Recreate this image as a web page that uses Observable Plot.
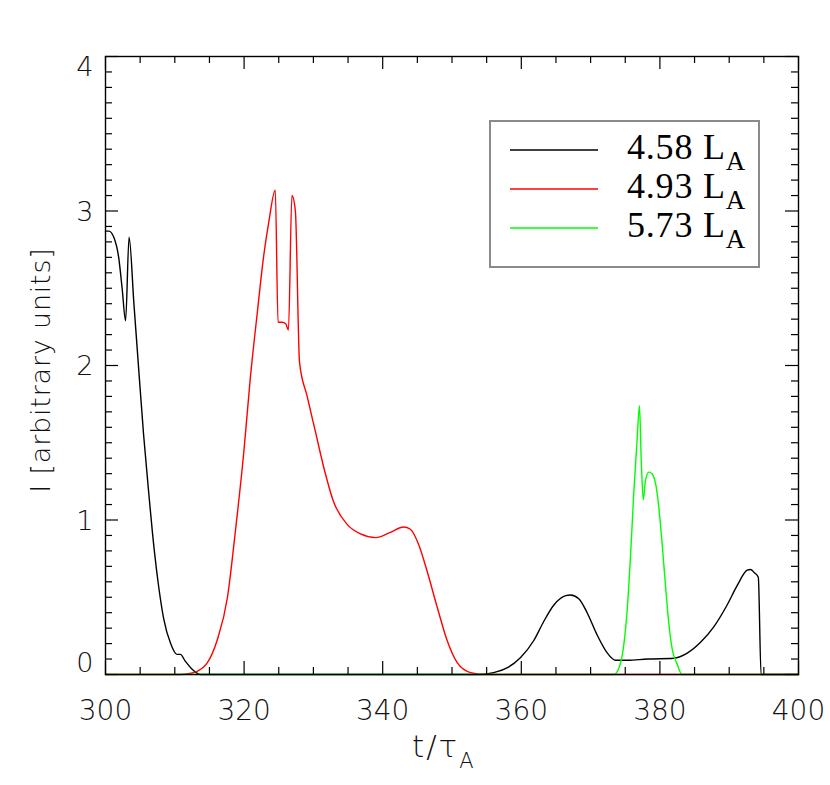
<!DOCTYPE html>
<html><head><meta charset="utf-8">
<script src="https://cdn.jsdelivr.net/npm/d3@7"></script>
<script src="https://cdn.jsdelivr.net/npm/@observablehq/plot@0.6"></script>
<style>html,body{margin:0;padding:0;background:#fff}</style>
</head><body><div id="chart"></div>
<script>
// ---- data ----
const seriesNames = ["4.58", "4.93", "5.73"];
const seriesColors = ["#000000", "#ff0000", "#00ff00"];

const t458 = [300, 300.5, 301.2, 301.9, 302.4, 302.9, 303.4, 304.1, 304.8, 305.5, 306.25, 307.0, 307.7, 308.4, 309.4, 310.3, 310.8, 311.5, 312.5, 313.7,
  354.1, 356.0, 358.0, 359.9, 361.8, 363.2, 364.7, 366.4, 367.1, 368.3, 369.5, 370.9, 372.4, 373.6, 375.3, 378.2, 382.0, 384.0, 385.9, 387.8, 389.7, 391.2, 392.6, 393.1, 393.6, 394.2, 394.6, 400];
const v458 = [2.87, 2.87, 2.83, 2.70, 2.50, 2.29, 2.83, 2.40, 1.97, 1.55, 1.17, 0.82, 0.56, 0.36, 0.20, 0.13, 0.13, 0.087, 0.034, 0,
  0, 0.012, 0.044, 0.11, 0.22, 0.34, 0.45, 0.51, 0.515, 0.49, 0.40, 0.26, 0.14, 0.092, 0.092, 0.10, 0.105, 0.14, 0.21, 0.31, 0.45, 0.58, 0.675, 0.68, 0.66, 0.63, 0, 0];

const t493 = [300, 310.8, 312.7, 314.7, 316.1, 317.6, 318.75, 319.96, 320.9, 321.9, 322.8, 323.6, 324.5, 324.9, 325.5, 326.0, 326.4, 326.9, 327.4, 328.0,
  329.1, 330.3, 331.5, 332.9, 334.9, 336.8, 339.0, 341.1, 343.0, 344.0, 345.2, 346.4, 347.9, 349.3, 350.75, 352.7, 354.6, 400];
const v493 = [0, 0, 0.012, 0.077, 0.22, 0.50, 0.93, 1.44, 1.92, 2.34, 2.70, 2.94, 3.135, 2.28, 2.28, 2.27, 2.23, 3.10, 3.00, 2.02,
  1.80, 1.57, 1.34, 1.12, 0.97, 0.91, 0.886, 0.92, 0.955, 0.94, 0.84, 0.67, 0.43, 0.22, 0.077, 0.012, 0, 0];

const t573 = [300, 373.35, 374.1, 374.8, 375.3, 375.8, 376.25, 376.7, 377.05, 377.3, 377.6, 377.9, 378.4, 378.85, 379.4, 379.8, 380.3, 380.8, 381.3, 381.75, 382.5, 383.2, 400];
const v573 = [0, 0, 0.044, 0.195, 0.43, 0.80, 1.19, 1.51, 1.74, 1.40, 1.13, 1.25, 1.31, 1.30, 1.23, 1.10, 0.86, 0.58, 0.325, 0.17, 0.066, 0, 0];

const xTickLabels = [300, 320, 340, 360, 380, 400];
const yTickLabels = [0, 1, 2, 3, 4];
const xMinorStep = 5;
const yMinorStep = 0.1;
const xTitle = {main: "t/", greek: "τ", sub: "A"};
const yTitle = "I [arbitrary units]";
const legendUnit = "L";
const legendSub = "A";

// ---- build table ----
const seriesT = [t458, t493, t573];
const seriesV = [v458, v493, v573];
const rows = [];
seriesNames.forEach((name, i) => {
  seriesT[i].forEach((t, j) => rows.push({series: name, t, v: seriesV[i][j]}));
});

const W = 830, H = 785, mL = 105, mR = 32, mT = 56, mB = 111;
const innerW = W - mL - mR, innerH = H - mT - mB;
const xMinor = d3.range(300, 400 + 1e-9, xMinorStep).filter(d => !xTickLabels.includes(d));
const yMinor = d3.range(0, 40 + 1e-9, 1).map(d => d * yMinorStep).filter(d => !yTickLabels.some(y => Math.abs(y - d) < 1e-9));
const majLen = 13, minLen = 7;
const tickFont = "'DejaVu Sans', sans-serif";
const labelColor = "#111";

const plot = Plot.plot({
  width: W, height: H,
  marginLeft: mL, marginRight: mR, marginTop: mT, marginBottom: mB,
  x: {domain: [300, 400], axis: null},
  y: {domain: [0, 4], axis: null},
  color: {domain: seriesNames, range: seriesColors},
  style: {background: "#fff", fontFamily: tickFont},
  marks: [
    Plot.line(rows, {x: "t", y: "v", z: "series", stroke: "series", strokeWidth: 1.4, curve: "monotone-x"}),
    // ticks, bottom/top
    Plot.tickX(xMinor, {x: d => d, insetTop: innerH - minLen, stroke: "#000", strokeWidth: 1.2}),
    Plot.tickX(xMinor, {x: d => d, insetBottom: innerH - minLen, stroke: "#000", strokeWidth: 1.2}),
    Plot.tickX(xTickLabels, {x: d => d, insetTop: innerH - majLen, stroke: "#000", strokeWidth: 1.2}),
    Plot.tickX(xTickLabels, {x: d => d, insetBottom: innerH - majLen, stroke: "#000", strokeWidth: 1.2}),
    // ticks, left/right
    Plot.tickY(yMinor, {y: d => d, insetRight: innerW - minLen, stroke: "#000", strokeWidth: 1.2}),
    Plot.tickY(yMinor, {y: d => d, insetLeft: innerW - minLen, stroke: "#000", strokeWidth: 1.2}),
    Plot.tickY(yTickLabels, {y: d => d, insetRight: innerW - majLen, stroke: "#000", strokeWidth: 1.2}),
    Plot.tickY(yTickLabels, {y: d => d, insetLeft: innerW - majLen, stroke: "#000", strokeWidth: 1.2}),
    Plot.frame({stroke: "#000", strokeWidth: 1.4}),
    // tick labels
    Plot.text(xTickLabels, {x: d => d, frameAnchor: "bottom", dy: 45, text: d => String(d), fontSize: 28, fontWeight: 200, fill: labelColor, textAnchor: "middle"}),
    Plot.text(yTickLabels.filter(d => d > 0 && d < 4), {y: d => d, frameAnchor: "left", dx: -12, dy: 1, text: d => String(d), fontSize: 27, fontWeight: 200, fill: labelColor, textAnchor: "end"}),
    Plot.text(yTickLabels.filter(d => d === 0), {y: d => d, frameAnchor: "left", dx: -12, dy: -11, text: d => String(d), fontSize: 27, fontWeight: 200, fill: labelColor, textAnchor: "end"}),
    Plot.text(yTickLabels.filter(d => d === 4), {y: d => d, frameAnchor: "left", dx: -12, dy: 11, text: d => String(d), fontSize: 27, fontWeight: 200, fill: labelColor, textAnchor: "end"})
  ]
});
document.getElementById("chart").appendChild(plot);

// ---- axis titles and legend ----
const svg = d3.select(plot);
const xt = svg.append("text")
  .attr("x", 412).attr("y", 757)
  .attr("text-anchor", "start")
  .style("font-family", tickFont).style("font-weight", 200).style("font-size", "31px")
  .style("letter-spacing", "2px").attr("fill", labelColor);
xt.append("tspan").text(xTitle.main);
xt.append("tspan").text(xTitle.greek);
xt.append("tspan").attr("dy", 11).style("font-size", "21px").text(xTitle.sub);

svg.append("text")
  .attr("transform", `translate(50,${mT + innerH / 2 + 5}) rotate(-90)`)
  .attr("text-anchor", "middle")
  .style("font-family", tickFont).style("font-weight", 200).style("font-size", "27px")
  .style("letter-spacing", "0.8px").attr("fill", labelColor)
  .text(yTitle);

const lg = svg.append("g");
lg.append("rect").attr("x", 490).attr("y", 121).attr("width", 269).attr("height", 146)
  .attr("fill", "#fff").attr("stroke", "#8a8a8a").attr("stroke-width", 2);
seriesNames.forEach((name, i) => {
  const y = 150 + i * 39;
  lg.append("line").attr("x1", 510).attr("x2", 598).attr("y1", y).attr("y2", y)
    .attr("stroke", seriesColors[i]).attr("stroke-width", 1.6);
  const tx = lg.append("text").attr("x", 627).attr("y", y + 9)
    .attr("text-anchor", "start")
    .style("font-family", "'Liberation Serif', 'Times New Roman', serif").style("font-size", "36px")
    .style("letter-spacing", "0.8px").attr("fill", "#000");
  tx.append("tspan").text(name + " " + legendUnit);
  tx.append("tspan").attr("dy", 11).style("font-size", "27px").text(legendSub);
});
</script>
</body></html>
